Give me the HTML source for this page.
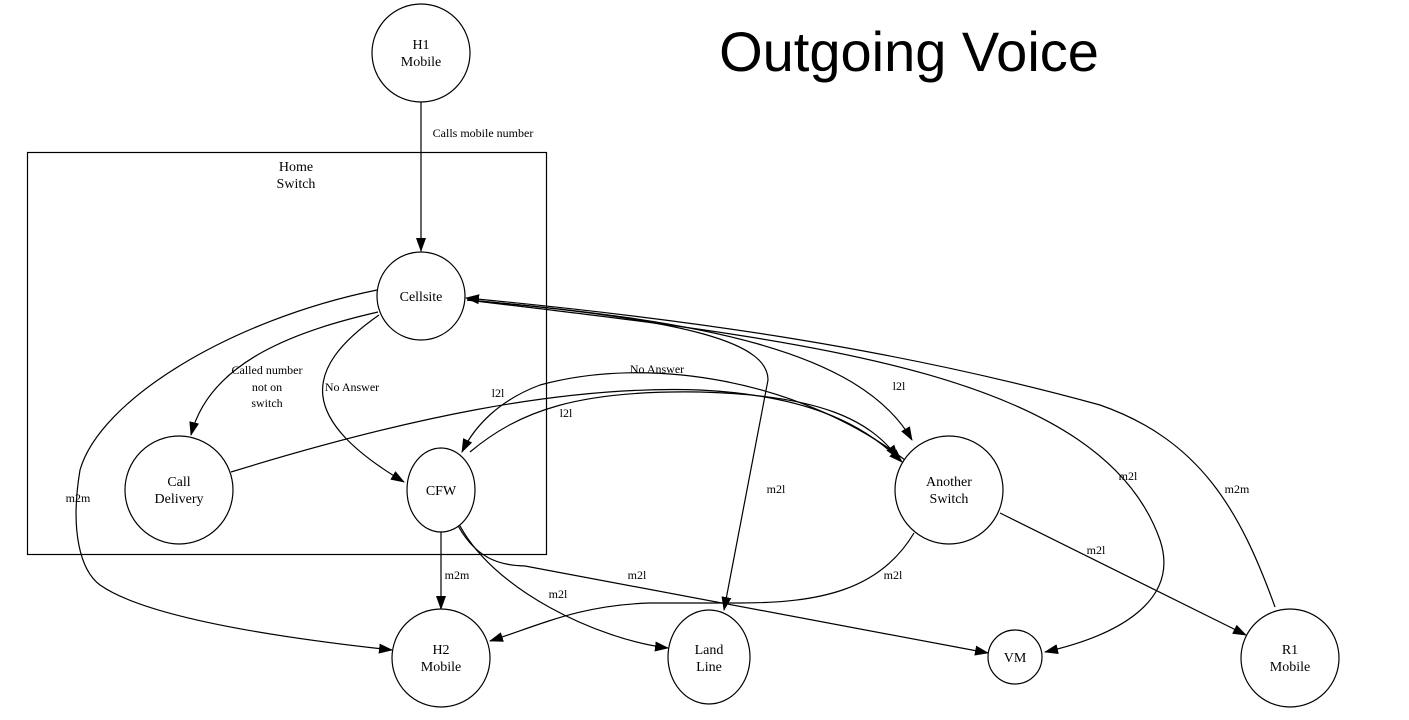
<!DOCTYPE html>
<html><head><meta charset="utf-8"><style>
html,body{margin:0;padding:0;background:#fff;}
svg{display:block;}
text{font-family:"Liberation Serif",serif;fill:#000;}
</style></head><body>
<svg width="1409" height="720" viewBox="0 0 1409 720" xmlns="http://www.w3.org/2000/svg">
<defs>
<marker id="a" markerWidth="14" markerHeight="10" refX="13" refY="5" orient="auto" markerUnits="userSpaceOnUse">
<path d="M0,0 L14,5 L0,10 z" fill="#000"/>
</marker>
</defs>
<text x="909" y="71" text-anchor="middle" style="font-family:'Liberation Sans',sans-serif;font-size:56px">Outgoing Voice</text>
<rect x="27.5" y="152.5" width="519" height="402" fill="none" stroke="#000" stroke-width="1.2"/>
<text x="296" y="171" text-anchor="middle" font-size="14">Home</text>
<text x="296" y="188" text-anchor="middle" font-size="14">Switch</text>

<g fill="none" stroke="#000" stroke-width="1.2">
<path d="M421,102 L421,251" marker-end="url(#a)"/>
<path d="M378,312 C300,330 210,360 191,435" marker-end="url(#a)"/>
<path d="M379,315 C300,370 300,420 404,482" marker-end="url(#a)"/>
<path d="M377,290 C230,320 100,400 80,470 C70,530 80,570 100,585 C150,620 300,640 392,650" marker-end="url(#a)"/>
<path d="M231,472 C400,420 560,385 700,390 C800,395 860,420 902,462" marker-end="url(#a)"/>
<path d="M905,460 C800,380 650,355 540,385 C500,400 475,425 462,452" marker-end="url(#a)"/>
<path d="M470,452 C520,410 580,390 700,392 C820,395 870,420 898,458" marker-end="url(#a)"/>
<path d="M467,300 C700,320 860,350 912,440" marker-end="url(#a)"/>
<path d="M467,300 C700,320 768,345 768,380 L724,610" marker-end="url(#a)"/>
<path d="M467,300 C800,340 1100,370 1160,540 C1180,600 1120,635 1045,652" marker-end="url(#a)"/>
<path d="M1275,607 C1240,510 1200,440 1100,405 C900,350 700,320 466,298" marker-end="url(#a)"/>
<path d="M441,532 L441,609" marker-end="url(#a)"/>
<path d="M457,520 C490,590 600,640 668,648" marker-end="url(#a)"/>
<path d="M455,520 C475,560 500,565 525,566 L988,653" marker-end="url(#a)"/>
<path d="M914,533 C880,590 820,603 740,603 L650,603 C580,605 540,625 490,641" marker-end="url(#a)"/>
<path d="M1000,513 L1246,635" marker-end="url(#a)"/>
</g>

<g fill="#fff" stroke="#000" stroke-width="1.2">
<circle cx="421" cy="53" r="49"/>
<circle cx="421" cy="296" r="44"/>
<circle cx="179" cy="490" r="54"/>
<ellipse cx="441" cy="490" rx="34" ry="42"/>
<circle cx="949" cy="490" r="54"/>
<circle cx="441" cy="658" r="49"/>
<ellipse cx="709" cy="657" rx="41" ry="47"/>
<circle cx="1015" cy="657" r="27"/>
<circle cx="1290" cy="658" r="49"/>
</g>

<g font-size="14" text-anchor="middle">
<text x="421" y="49">H1</text><text x="421" y="66">Mobile</text>
<text x="421" y="301">Cellsite</text>
<text x="179" y="486">Call</text><text x="179" y="503">Delivery</text>
<text x="441" y="495">CFW</text>
<text x="949" y="486">Another</text><text x="949" y="503">Switch</text>
<text x="441" y="654">H2</text><text x="441" y="671">Mobile</text>
<text x="709" y="654">Land</text><text x="709" y="671">Line</text>
<text x="1015" y="662">VM</text>
<text x="1290" y="654">R1</text><text x="1290" y="671">Mobile</text>
</g>

<g font-size="12" text-anchor="middle">
<text x="483" y="137">Calls mobile number</text>
<text x="267" y="374">Called number</text>
<text x="267" y="391">not on</text>
<text x="267" y="407">switch</text>
<text x="352" y="391">No Answer</text>
<text x="657" y="373">No Answer</text>
<text x="498" y="397">l2l</text>
<text x="566" y="417">l2l</text>
<text x="899" y="390">l2l</text>
<text x="78" y="502">m2m</text>
<text x="776" y="493">m2l</text>
<text x="1128" y="480">m2l</text>
<text x="1237" y="493">m2m</text>
<text x="457" y="579">m2m</text>
<text x="558" y="598">m2l</text>
<text x="637" y="579">m2l</text>
<text x="893" y="579">m2l</text>
<text x="1096" y="554">m2l</text>
</g>
</svg>
</body></html>
